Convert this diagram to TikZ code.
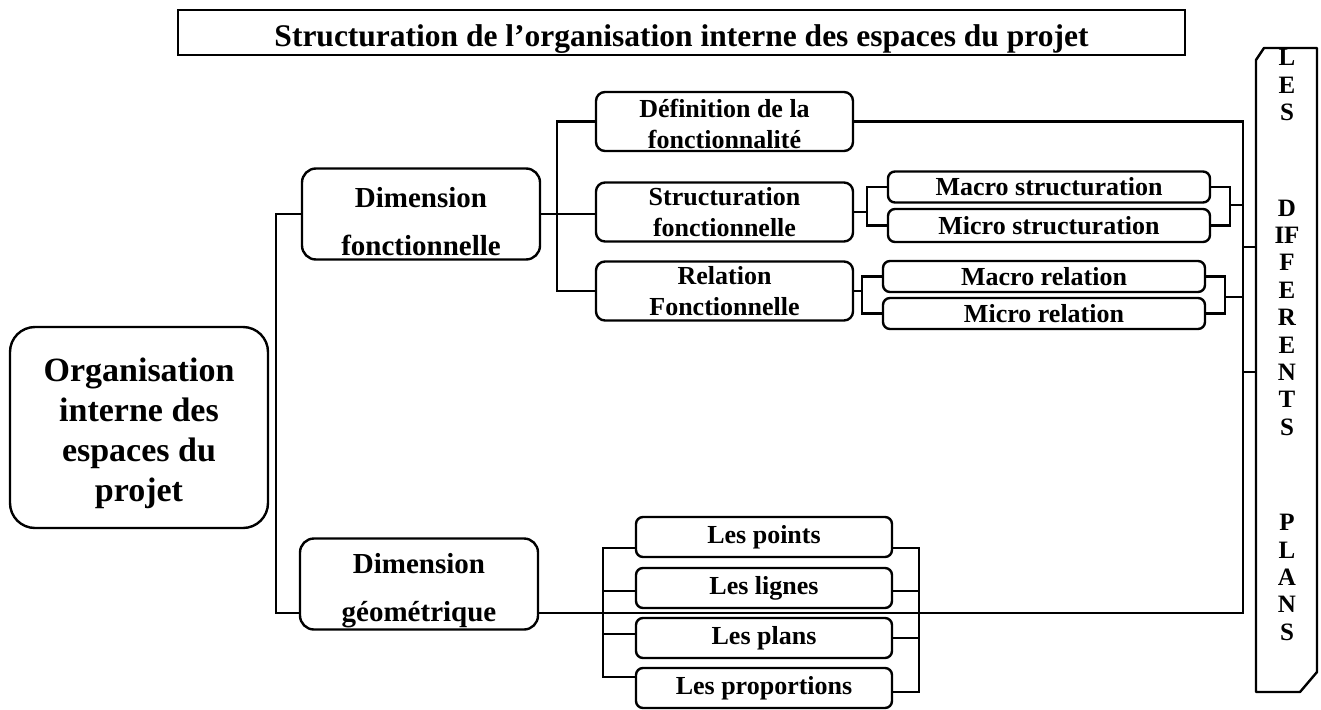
\documentclass[tikz,border=0pt]{standalone}
\usepackage{fontspec}
\setmainfont{Liberation Serif}
\usetikzlibrary{positioning}

\newcommand{\fttitre}{\fontsize{31.5}{37}\selectfont\bfseries}
\newcommand{\ftracine}{\fontsize{34}{40}\selectfont\bfseries}
\newcommand{\ftdim}{\fontsize{29}{35}\selectfont\bfseries}
\newcommand{\ftbox}{\fontsize{26}{31}\selectfont\bfseries}
\newcommand{\ftcol}{\fontsize{25}{27.4}\selectfont\bfseries}
\newcommand{\haut}[1]{\rule{0pt}{#1}}

\begin{document}
\begin{tikzpicture}[x=1pt,y=-1pt,
  box/.style={draw,line width=2.4pt,rounded corners=7pt,align=center,inner sep=0pt,font=\ftbox},
  titlebox/.style={draw,line width=2.8pt,minimum width=1007pt,minimum height=45pt,
    text height=27pt,text depth=0pt,font=\fttitre},
  rootbox/.style={box,rounded corners=25pt,minimum width=258pt,minimum height=201pt,font=\ftracine},
  dimbox/.style={box,rounded corners=14pt,minimum width=238pt,minimum height=91pt,font=\ftdim},
  midbox/.style={box,rounded corners=9pt,minimum width=257pt,minimum height=59pt},
  leaf/.style={box,minimum width=322pt,minimum height=31pt},
  geo/.style={box,minimum width=256pt,minimum height=40pt},
  vtext/.style={align=center,inner sep=0pt,font=\ftcol},
  frame/.style={line width=2.4pt,line join=round},
  link/.style={line width=2.2pt}]
  \useasboundingbox (0,0) rectangle (1321,709);
  % titre
  \node[titlebox] (titre) at (681.5,32.5) {Structuration de l’organisation interne des espaces du projet};
  % racine
  \node[rootbox] (org) at (139,427.5) {\haut{35pt}Organisation\\interne des\\espaces du\\projet};
  % dimensions
  \node[dimbox] (dimf) at (421,214) {\haut{36pt}Dimension\\[13pt]fonctionnelle};
  \node[dimbox] (dimg) at (419,584) {\haut{34pt}Dimension\\[13pt]géométrique};
  % dimension fonctionnelle
  \node[midbox] (def) at (724.5,121.5) {\haut{24pt}Définition de la\\fonctionnalité};
  \node[midbox] (struct) at (724.5,212) {Structuration\\fonctionnelle};
  \node[midbox] (rel) at (724.5,291) {Relation\\Fonctionnelle};
  \node[leaf] (macs) at (1049,187) {Macro structuration};
  \node[leaf,minimum height=33pt] (mics) at (1049,225.5) {Micro structuration};
  \node[leaf] (macr) at (1044,276.5) {Macro relation};
  \node[leaf] (micr) at (1044,313.5) {Micro relation};
  % dimension geometrique
  \node[geo] (pts) at (764,537) {Les points};
  \node[geo] (lig) at (764,588) {Les lignes};
  \node[geo] (pla) at (764,638) {Les plans};
  \node[geo] (pro) at (764,688) {Les proportions};
  % colonne de droite
  \draw[frame] (1256,60) -- (1264,48) -- (1317,48) -- (1317,672) -- (1300,692) -- (1256,692) -- cycle;
  \node[vtext] (plans) at (1287,345) {L\\E\\S\\[68pt]D\\IF\\F\\E\\R\\E\\N\\T\\S\\[68pt]P\\L\\A\\N\\S};
  % points de liaison
  \coordinate (tronc) at (276,0);
  \coordinate (ligne) at (0,613);
  \coordinate (bus) at (1243,0);
  \coordinate (fb) at (557,0);
  \coordinate (sg) at (867,0);
  \coordinate (sd) at (1230,0);
  \coordinate (sm) at (1230,205);
  \coordinate (rg) at (862,0);
  \coordinate (rd) at (1225,0);
  \coordinate (rm) at (1225,297);
  \coordinate (t1) at (1243,247);
  \coordinate (t2) at (1243,372);
  \coordinate (cg) at (1256,0);
  % liaisons
  \draw[link] (dimf.west) -| (tronc |- ligne) -- (dimg.west |- ligne);
  \draw[link] (dimg.east |- ligne) -- (bus |- ligne) -- (bus |- def.east) -- (def.east);
  \draw[link] (def.west) -| (fb |- rel.west) -- (rel.west);
  \draw[link] (dimf.east) -- (dimf.east -| struct.west);
  \draw[link] (macs.west) -| (sg |- mics.west) -- (mics.west);
  \draw[link] (struct.east) -- (sg |- struct.east);
  \draw[link] (macs.east) -| (sd |- mics.east) -- (mics.east);
  \draw[link] (sm) -- (sm -| bus);
  \draw[link] (macr.west) -| (rg |- micr.west) -- (micr.west);
  \draw[link] (rel.east) -- (rg |- rel.east);
  \draw[link] (macr.east) -| (rd |- micr.east) -- (micr.east);
  \draw[link] (rm) -- (rm -| bus);
  \draw[link] (t1) -- (t1 -| cg);
  \draw[link] (t2) -- (t2 -| cg);
  % accolades geometriques
  \draw[link] ([yshift=-11pt]pts.west) -- ++(-32,0) |- ([yshift=11pt]pro.west);
  \draw[link] ([yshift=-3pt]lig.west) -- ++(-32,0);
  \draw[link] ([yshift=4pt]pla.west) -- ++(-32,0);
  \draw[link] ([yshift=-11pt]pts.east) -- ++(26,0) |- ([yshift=-4pt]pro.east);
  \draw[link] ([yshift=-3pt]lig.east) -- ++(26,0);
  \draw[link] (pla.east) -- ++(26,0);
\end{tikzpicture}
\end{document}
